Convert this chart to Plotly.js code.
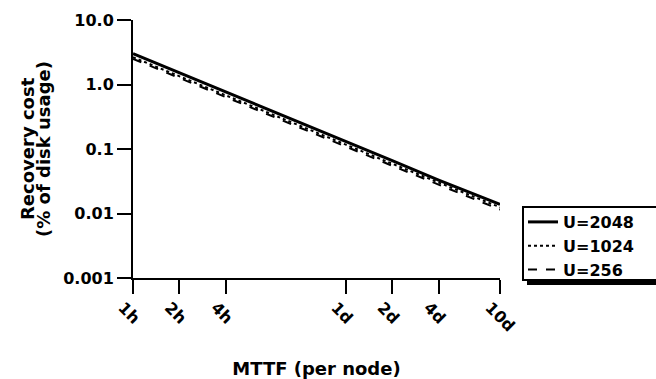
<!DOCTYPE html>
<html>
<head>
<meta charset="utf-8">
<script src="https://cdn.plot.ly/plotly-3.0.1.min.js"></script>
<style>html,body{margin:0;padding:0;background:#fff;}#chart{width:656px;height:379px;}</style>
</head>
<body>
<div id="chart"></div>
<script>
// MTTF in hours
const mttfHours = [1, 2, 4, 24, 48, 96, 240];
const tickLabels = ['1h', '2h', '4h', '1d', '2d', '4d', '10d'];
const u2048 = [3.0, 1.52, 0.77, 0.13, 0.066, 0.033, 0.0138];
const u1024 = [2.65, 1.35, 0.68, 0.117, 0.059, 0.030, 0.0125];
const u256  = [2.5, 1.27, 0.64, 0.109, 0.055, 0.028, 0.0115];
const seriesNames = ['U=2048', 'U=1024', 'U=256'];
const yTicks = [0.001, 0.01, 0.1, 1, 10];
const yTickText = ['0.001', '0.01', '0.1', '1.0', '10.0'];
const xTitle = 'MTTF (per node)';
const yTitleLines = ['Recovery cost', '(% of disk usage)'];

const fontFam = '"DejaVu Sans", "Liberation Sans", Arial, sans-serif';
const b = s => '<b>' + s + '</b>';

const traces = [
  {x: mttfHours, y: u2048, name: b(seriesNames[0]), mode: 'lines', line: {color: '#000', width: 3, dash: 'solid'}},
  {x: mttfHours, y: u1024, name: b(seriesNames[1]), mode: 'lines', line: {color: '#000', width: 2, dash: 'dot'}},
  {x: mttfHours, y: u256,  name: b(seriesNames[2]), mode: 'lines', line: {color: '#000', width: 2, dash: 'dash'}}
];

const plotL = 133, plotR = 500, plotT = 20, plotB = 278;
const pw = plotR - plotL, ph = plotB - plotT;
const px = X => (X - plotL) / pw;
const py = Y => (plotB - Y) / ph;

const layout = {
  width: 656, height: 379,
  margin: {l: plotL, r: 656 - plotR, t: plotT, b: 379 - plotB},
  paper_bgcolor: '#fff', plot_bgcolor: '#fff',
  font: {family: fontFam, size: 16, color: '#000'},
  showlegend: true,
  legend: {
    x: px(523), y: py(205), xanchor: 'left', yanchor: 'top',
    borderwidth: 0, bgcolor: 'rgba(0,0,0,0)',
    font: {family: fontFam, size: 16, color: '#000'},
    tracegroupgap: 0, itemwidth: 30
  },
  xaxis: {
    type: 'log', range: [0, Math.log10(240)],
    tickmode: 'array', tickvals: mttfHours, ticktext: tickLabels.map(b),
    tickangle: 45, ticks: 'outside', ticklen: 14, tickwidth: 2, tickcolor: '#000',
    ticklabelshift: -10, ticklabelstandoff: -2,
    showline: true, linecolor: '#000', linewidth: 2, showgrid: false, zeroline: false,
    tickfont: {family: fontFam, size: 16, color: '#000'},
    title: {text: b(xTitle), standoff: 28, font: {family: fontFam, size: 18, color: '#000'}}
  },
  yaxis: {
    type: 'log', range: [-3, 1],
    tickmode: 'array', tickvals: yTicks, ticktext: yTickText.map(b),
    ticks: 'outside', ticklen: 14, tickwidth: 2, tickcolor: '#000',
    showline: true, linecolor: '#000', linewidth: 2, showgrid: false, zeroline: false,
    tickfont: {family: fontFam, size: 16, color: '#000'}
  },
  annotations: [
    {text: b(yTitleLines[0]), xref: 'paper', yref: 'paper', x: px(27), y: 0.5, textangle: -90,
     showarrow: false, xanchor: 'center', yanchor: 'middle', font: {family: fontFam, size: 18, color: '#000'}},
    {text: b(yTitleLines[1]), xref: 'paper', yref: 'paper', x: px(43), y: 0.5, textangle: -90,
     showarrow: false, xanchor: 'center', yanchor: 'middle', font: {family: fontFam, size: 18, color: '#000'}}
  ],
  shapes: [
    {type: 'rect', xref: 'paper', yref: 'paper', x0: px(527), x1: px(700), y0: py(285), y1: py(279),
     fillcolor: '#000', line: {width: 0}, layer: 'above'},
    {type: 'rect', xref: 'paper', yref: 'paper', x0: px(523), x1: px(700), y0: py(280), y1: py(207),
     fillcolor: '#fff', line: {color: '#000', width: 2}, layer: 'above'}
  ]
};

Plotly.newPlot('chart', traces, layout, {displayModeBar: false, staticPlot: true});
</script>
</body>
</html>
